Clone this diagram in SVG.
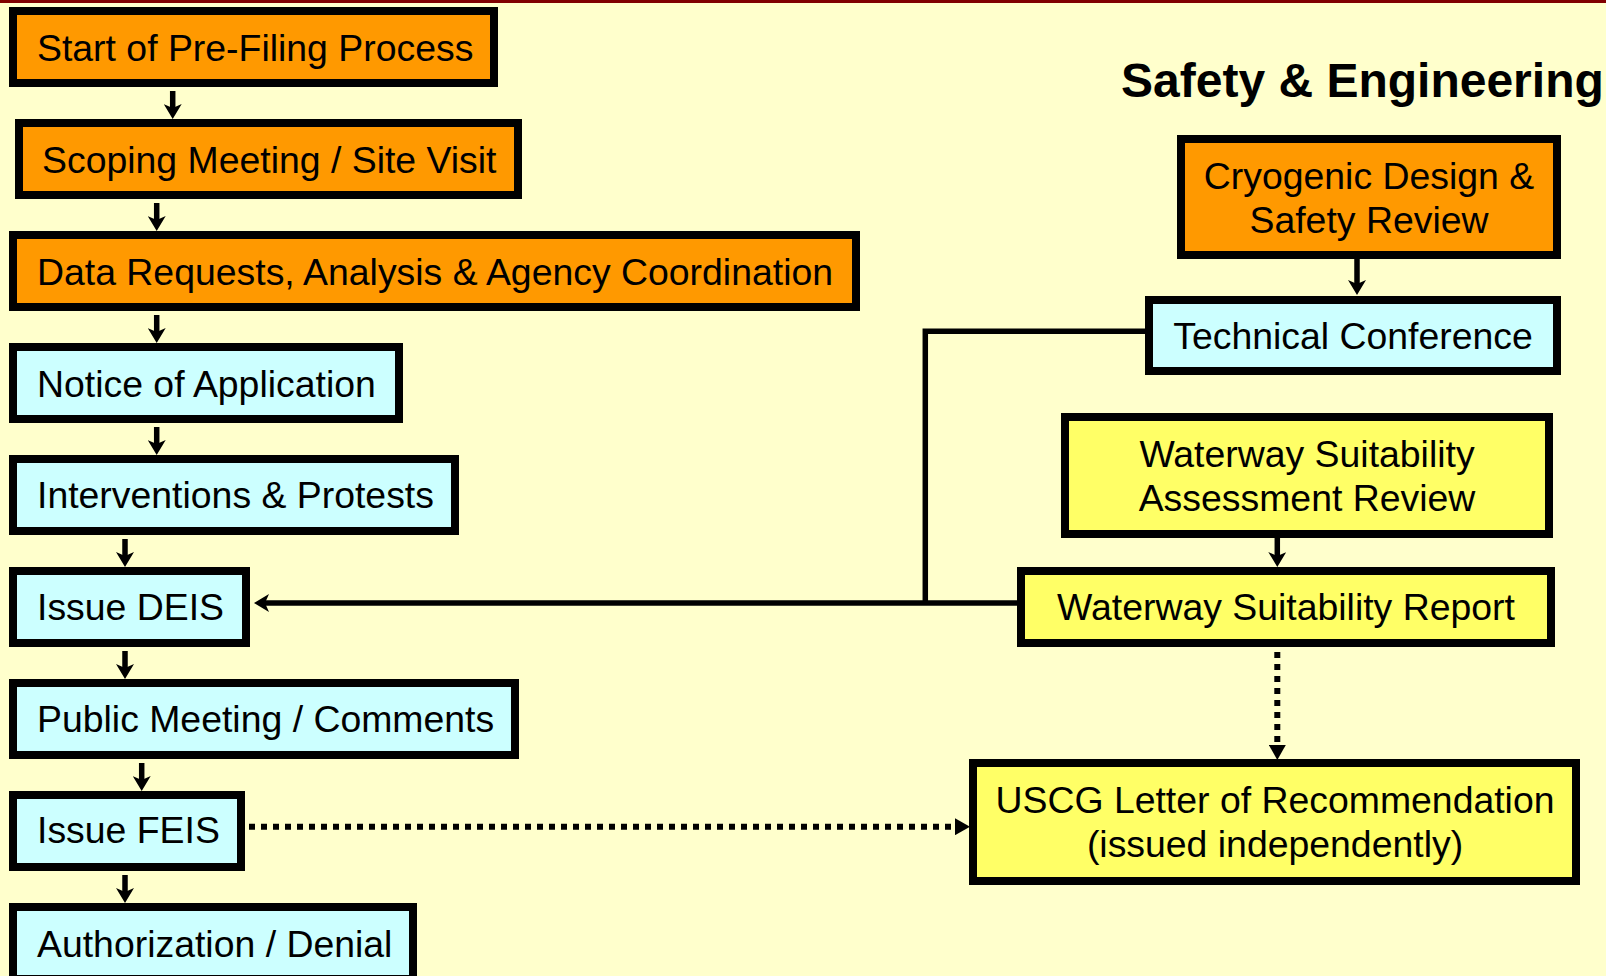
<svg xmlns="http://www.w3.org/2000/svg" width="1606" height="976" viewBox="0 0 1606 976">
<style>
.box{stroke:#000;stroke-width:8}
.or{fill:#FF9900}
.cy{fill:#CCFFFF}
.ye{fill:#FFFF66}
.t{font-family:"Liberation Sans",Arial,sans-serif;font-size:37.4px;fill:#000}
.c{text-anchor:middle}
.ln{fill:none;stroke:#000;stroke-width:5.5}
.dot{fill:none;stroke:#000;stroke-width:6;stroke-dasharray:6 6}
</style>
<defs>
<marker id="ah" viewBox="0 0 15 18" refX="4" refY="9" markerWidth="15" markerHeight="18" markerUnits="userSpaceOnUse" orient="auto">
<path d="M0,0 L15,9 L0,18 L4,9 z" fill="#000"/>
</marker>
<marker id="tri" viewBox="0 0 15 17" refX="0" refY="8.5" markerWidth="15" markerHeight="17" markerUnits="userSpaceOnUse" orient="auto">
<path d="M0,0 L15,8.5 L0,17 z" fill="#000"/>
</marker>
</defs>
<rect x="0" y="0" width="1606" height="976" fill="#FFFFCC"/>
<rect x="0" y="0" width="1606" height="3" fill="#800000"/>
<text x="1121" y="97" font-family="Liberation Sans, Arial, sans-serif" font-size="48" font-weight="bold" fill="#000">Safety &amp; Engineering</text>

<g id="connectors">
<line class="ln" x1="172.7" y1="91" x2="172.7" y2="108" marker-end="url(#ah)"/>
<line class="ln" x1="156.7" y1="203" x2="156.7" y2="220" marker-end="url(#ah)"/>
<line class="ln" x1="156.7" y1="315" x2="156.7" y2="332" marker-end="url(#ah)"/>
<line class="ln" x1="156.7" y1="427" x2="156.7" y2="444" marker-end="url(#ah)"/>
<line class="ln" x1="125" y1="539" x2="125" y2="556" marker-end="url(#ah)"/>
<line class="ln" x1="125" y1="651" x2="125" y2="668" marker-end="url(#ah)"/>
<line class="ln" x1="141.7" y1="763" x2="141.7" y2="780" marker-end="url(#ah)"/>
<line class="ln" x1="125" y1="875" x2="125" y2="892" marker-end="url(#ah)"/>
<line class="ln" x1="1357" y1="259" x2="1357" y2="284" marker-end="url(#ah)"/>
<line class="ln" x1="1277.3" y1="538" x2="1277.3" y2="556" marker-end="url(#ah)"/>
<polyline class="ln" points="1146,331.2 925.3,331.2 925.3,603"/>
<line class="ln" x1="1018" y1="603" x2="265" y2="603" marker-end="url(#ah)"/>
<line class="dot" x1="237" y1="826.7" x2="955" y2="826.7" marker-end="url(#tri)"/>
<line class="dot" x1="1277.3" y1="652" x2="1277.3" y2="745" marker-end="url(#tri)"/>
</g>

<g id="n-start"><rect class="box or" x="13" y="11" width="481" height="72"/><text class="t" x="37" y="61">Start of Pre-Filing Process</text></g>
<g id="n-scoping"><rect class="box or" x="19" y="123" width="499" height="72"/><text class="t" x="42" y="173">Scoping Meeting / Site Visit</text></g>
<g id="n-data"><rect class="box or" x="13" y="235" width="843" height="72"/><text class="t" x="37" y="285">Data Requests, Analysis &amp; Agency Coordination</text></g>
<g id="n-notice"><rect class="box cy" x="13" y="347" width="386" height="72"/><text class="t" x="37" y="397">Notice of Application</text></g>
<g id="n-interv"><rect class="box cy" x="13" y="459" width="442" height="72"/><text class="t" x="37" y="508">Interventions &amp; Protests</text></g>
<g id="n-deis"><rect class="box cy" x="13" y="571" width="233" height="72"/><text class="t" x="37" y="620">Issue DEIS</text></g>
<g id="n-public"><rect class="box cy" x="13" y="683" width="502" height="72"/><text class="t" x="37" y="732">Public Meeting / Comments</text></g>
<g id="n-feis"><rect class="box cy" x="13" y="795" width="228" height="72"/><text class="t" x="37" y="843">Issue FEIS</text></g>
<g id="n-auth"><rect class="box cy" x="13" y="907" width="400" height="72"/><text class="t" x="37" y="957">Authorization / Denial</text></g>

<g id="n-cryo"><rect class="box or" x="1181" y="139" width="376" height="116"/><text class="t c" x="1369" y="189">Cryogenic Design &amp;</text><text class="t c" x="1369" y="233">Safety Review</text></g>
<g id="n-tech"><rect class="box cy" x="1149" y="300" width="408" height="71"/><text class="t c" x="1353" y="349">Technical Conference</text></g>
<g id="n-wsa"><rect class="box ye" x="1065" y="417" width="484" height="117"/><text class="t c" x="1307" y="467">Waterway Suitability</text><text class="t c" x="1307" y="511">Assessment Review</text></g>
<g id="n-wsr"><rect class="box ye" x="1021" y="571" width="530" height="72"/><text class="t c" x="1286" y="620">Waterway Suitability Report</text></g>
<g id="n-uscg"><rect class="box ye" x="973" y="763" width="603" height="118"/><text class="t c" x="1275" y="813">USCG Letter of Recommendation</text><text class="t c" x="1275" y="857">(issued independently)</text></g>
</svg>
